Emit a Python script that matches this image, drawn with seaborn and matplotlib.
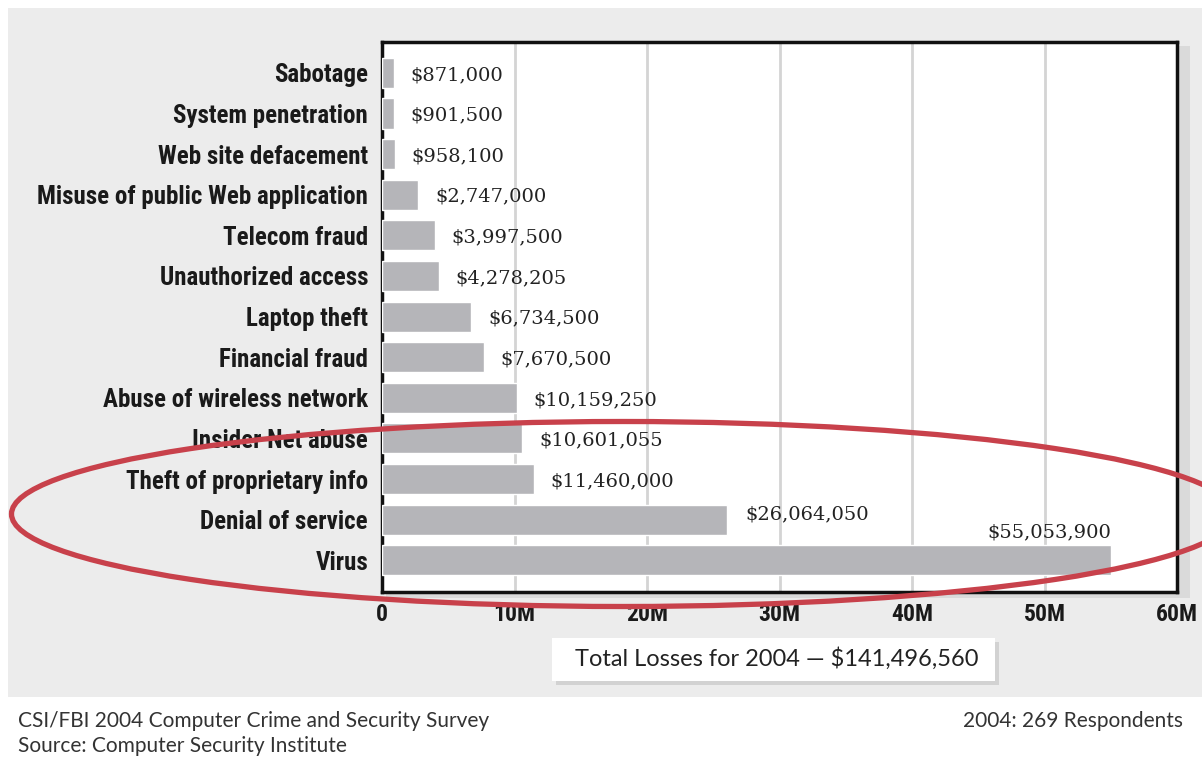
import matplotlib
matplotlib.use("Agg")
import matplotlib.pyplot as plt
from matplotlib import font_manager
from matplotlib.patches import Rectangle, Ellipse
import seaborn as sns
import pandas as pd

categories = ["Sabotage", "System penetration", "Web site defacement",
              "Misuse of public Web application", "Telecom fraud",
              "Unauthorized access", "Laptop theft", "Financial fraud",
              "Abuse of wireless network", "Insider Net abuse",
              "Theft of proprietary info", "Denial of service", "Virus"]
losses = [871000, 901500, 958100, 2747000, 3997500, 4278205, 6734500,
          7670500, 10159250, 10601055, 11460000, 26064050, 55053900]
xtick_values = [0, 10e6, 20e6, 30e6, 40e6, 50e6, 60e6]
xtick_labels = ["0", "10M", "20M", "30M", "40M", "50M", "60M"]
total_text = "Total Losses for 2004 \u2014 $141,496,560"
footer_left = ["CSI/FBI 2004 Computer Crime and Security Survey",
               "Source: Computer Security Institute"]
footer_right = "2004: 269 Respondents"

names = {f.name for f in font_manager.fontManager.ttflist}
def pick(*cands):
    for c in cands:
        if c in names:
            return c
    return "DejaVu Sans"
narrow = pick("Liberation Sans Narrow", "Roboto Condensed", "Open Sans Condensed", "Liberation Sans")
serif = pick("DejaVu Serif", "Liberation Serif")
sans = pick("Lato", "Open Sans", "DejaVu Sans")

sns.set_theme(style="white")
plt.rcParams['font.family'] = [sans, 'DejaVu Sans']

W, H = 1202, 757
fig = plt.figure(figsize=(W / 100, H / 100), dpi=100)
fig.patch.set_facecolor("white")

# gray panel
fig.patches.append(Rectangle((8 / W, 1 - 697 / H), 1 - 8 / W, (697 - 8) / H,
                             transform=fig.transFigure, facecolor="#ececec",
                             edgecolor="none", zorder=-3))
# axes shadow
fig.patches.append(Rectangle((386 / W, 1 - 598 / H), (1190 - 386) / W, (598 - 46) / H,
                             transform=fig.transFigure, facecolor="#dadada",
                             edgecolor="none", zorder=-2))

ax = fig.add_axes([382 / W, 1 - 592 / H, (1177 - 382) / W, (592 - 42) / H])
ax.set_zorder(1)
ax.set_facecolor("white")

df = pd.DataFrame({"category": categories, "loss": losses})
sns.barplot(data=df, x="loss", y="category", orient="h", color="#b5b5b9",
            width=0.74, saturation=1, ax=ax, zorder=3)

ax.set_xlim(0, 60e6)
ax.set_ylim(12.78, -0.76)
ax.set_xticks(xtick_values)
ax.set_xticklabels(xtick_labels, fontfamily=narrow, fontweight="bold",
                   fontsize=17, color="#1a1a1a")
ax.set_yticks(range(len(categories)))
ax.set_yticklabels(categories, fontfamily=narrow, fontweight="bold",
                   fontsize=18, color="#1a1a1a")
ax.tick_params(axis="both", length=0)
ax.tick_params(axis="y", pad=10)
ax.tick_params(axis="x", pad=8)
ax.set_xlabel("")
ax.set_ylabel("")
ax.grid(axis="x", color="#d4d4d4", linewidth=2, zorder=1)
ax.grid(axis="y", visible=False)
ax.set_axisbelow(True)
for s in ax.spines.values():
    s.set_visible(True)
    s.set_color("#111111")
    s.set_linewidth(2.5)

# value labels
for i, v in enumerate(losses):
    lab = "${:,}".format(v)
    if i == len(losses) - 1:
        ax.annotate(lab, xy=(v, i), xytext=(0, 14), textcoords="offset points",
                    ha="right", va="bottom", fontfamily=serif, fontsize=14,
                    color="#222222", zorder=5)
    elif i == len(losses) - 2:
        ax.annotate(lab, xy=(v, i), xytext=(13, 4), textcoords="offset points",
                    ha="left", va="center", fontfamily=serif, fontsize=14,
                    color="#222222", zorder=5)
    else:
        ax.annotate(lab, xy=(v, i), xytext=(12, -1.5), textcoords="offset points",
                    ha="left", va="center", fontfamily=serif, fontsize=14,
                    color="#222222", zorder=5)

# total losses box
fig.patches.append(Rectangle((556 / W, 1 - 685 / H), (999 - 556) / W, 43 / H,
                             transform=fig.transFigure, facecolor="#d2d2d2",
                             edgecolor="none", zorder=2))
fig.patches.append(Rectangle((552 / W, 1 - 681 / H), (995 - 552) / W, 43 / H,
                             transform=fig.transFigure, facecolor="white",
                             edgecolor="none", zorder=3))
fig.text(777 / W, 1 - 659 / H, total_text, ha="center", va="center",
         fontsize=17, color="#222222", zorder=4)

# footer
fig.text(18 / W, 1 - 721 / H, footer_left[0], ha="left", va="center",
         fontsize=15, color="#333333")
fig.text(18 / W, 1 - 746 / H, footer_left[1], ha="left", va="center",
         fontsize=15, color="#333333")
fig.text(1183 / W, 1 - 721 / H, footer_right, ha="right", va="center",
         fontsize=15, color="#333333")

# red ellipse
fig.patches.append(Ellipse((623 / W, 1 - 514 / H), 1223 / W, 185 / H,
                           transform=fig.transFigure, facecolor="none",
                           edgecolor="#c8414b", linewidth=3.8, zorder=10))

fig.savefig("out.png", dpi=100)
